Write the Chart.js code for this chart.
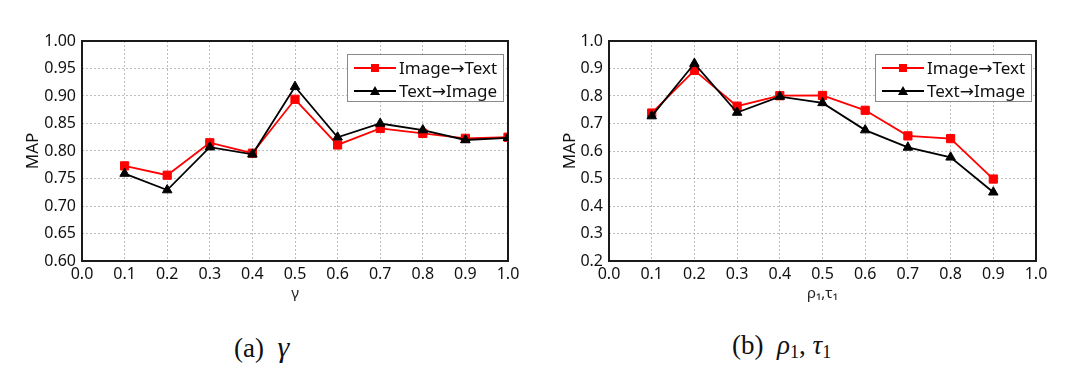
<!DOCTYPE html>
<html>
<head>
<meta charset="utf-8">
<script src="https://cdn.jsdelivr.net/npm/chart.js@4.4.1/dist/chart.umd.min.js"></script>
<style>
  html, body { margin: 0; padding: 0; background: #fff; }
  #page { position: relative; width: 1080px; height: 386px; overflow: hidden; }
  canvas { position: absolute; top: 0; }
  .cap { position: absolute; top: 330px; font-family: "Liberation Serif", "DejaVu Serif", serif; font-size: 27px; color: #111; white-space: nowrap; }
  .cap i { font-style: italic; }
  .cap .g { font-size: 30px; }
  .cap sub { font-size: 18px; vertical-align: -4px; }
</style>
</head>
<body>
<div id="page">
  <canvas id="left" width="540" height="310" style="left:0"></canvas>
  <canvas id="right" width="540" height="310" style="left:540px"></canvas>
  <div class="cap" style="left:234px">(a)&nbsp; <i class="g">γ</i></div>
  <div class="cap" style="left:732px">(b)&nbsp; <i>ρ</i><sub>1</sub>, <i>τ</i><sub>1</sub></div>
</div>
<script>
// values
const gammaX = [0.1, 0.2, 0.3, 0.4, 0.5, 0.6, 0.7, 0.8, 0.9, 1.0];
const gammaImgToText = [0.773, 0.756, 0.815, 0.796, 0.894, 0.811, 0.841, 0.832, 0.823, 0.825];
const gammaTextToImg = [0.759, 0.729, 0.807, 0.794, 0.917, 0.825, 0.850, 0.838, 0.820, 0.824];

const rhoX = [0.1, 0.2, 0.3, 0.4, 0.5, 0.6, 0.7, 0.8, 0.9];
const rhoImgToText = [0.738, 0.893, 0.763, 0.801, 0.802, 0.748, 0.655, 0.645, 0.498];
const rhoTextToImg = [0.727, 0.918, 0.740, 0.798, 0.775, 0.676, 0.613, 0.577, 0.450];

const seriesNames = ['Image\u2192Text', 'Text\u2192Image'];
const RED = '#ff0000';
const BLACK = '#000000';
const FONT = '"Noto Sans", "DejaVu Sans", sans-serif';

const toPoints = (xs, ys) => xs.map((x, i) => ({ x: x, y: ys[i] }));

// box around the plot area
const framePlugin = {
    id: 'frame',
    beforeDatasetsDraw(chart) {
        const a = chart.chartArea;
        const ctx = chart.ctx;
        ctx.save();
        ctx.strokeStyle = '#1a1a1a';
        ctx.lineWidth = 2;
        ctx.strokeRect(a.left, a.top, a.right - a.left, a.bottom - a.top);
        ctx.restore();
    }
};

// legend box in the upper right corner of the plot
const legendBoxPlugin = {
    id: 'legendBox',
    afterDatasetsDraw(chart) {
        const a = chart.chartArea;
        const ctx = chart.ctx;
        const w = 156, h = 47;
        const x0 = a.right - 5 - w, y0 = a.top + 13;
        ctx.save();
        ctx.fillStyle = '#fff';
        ctx.fillRect(x0, y0, w, h);
        ctx.strokeStyle = '#8a8a8a';
        ctx.lineWidth = 1;
        ctx.strokeRect(x0 + 0.5, y0 + 0.5, w, h);
        const rows = [
            { name: seriesNames[0], color: RED, shape: 'square', y: y0 + 14 },
            { name: seriesNames[1], color: BLACK, shape: 'triangle', y: y0 + 37 }
        ];
        rows.forEach(r => {
            ctx.strokeStyle = r.color;
            ctx.fillStyle = r.color;
            ctx.lineWidth = 1.8;
            ctx.beginPath();
            ctx.moveTo(x0 + 7, r.y);
            ctx.lineTo(x0 + 49, r.y);
            ctx.stroke();
            const mx = x0 + 28;
            ctx.beginPath();
            if (r.shape === 'square') {
                ctx.rect(mx - 4, r.y - 4, 8, 8);
            } else {
                ctx.moveTo(mx, r.y - 5);
                ctx.lineTo(mx + 5, r.y + 4);
                ctx.lineTo(mx - 5, r.y + 4);
                ctx.closePath();
            }
            ctx.fill();
            ctx.fillStyle = '#111';
            ctx.font = '17px ' + FONT;
            ctx.textBaseline = 'middle';
            ctx.textAlign = 'left';
            ctx.fillText(r.name, x0 + 52, r.y + 1);
        });
        ctx.restore();
    }
};

function makeChart(id, cfg) {
    const gridStyle = {
        color: '#bdbdbd',
        lineWidth: 1,
        drawTicks: false
    };
    const dashed = { display: false, dash: [2, 2] };
    return new Chart(document.getElementById(id), {
        type: 'line',
        data: {
            datasets: [
                {
                    label: seriesNames[1],
                    data: toPoints(cfg.xs, cfg.textImg),
                    borderColor: BLACK,
                    backgroundColor: BLACK,
                    borderWidth: 1.8,
                    pointStyle: 'triangle',
                    pointRadius: 5.5,
                    pointBorderWidth: 1,
                    order: 0
                },
                {
                    label: seriesNames[0],
                    data: toPoints(cfg.xs, cfg.imgText),
                    borderColor: RED,
                    backgroundColor: RED,
                    borderWidth: 1.8,
                    pointStyle: 'rect',
                    pointRadius: 5.8,
                    pointBorderWidth: 1,
                    order: 1
                }
            ]
        },
        options: {
            responsive: false,
            animation: false,
            devicePixelRatio: 1,
            layout: { padding: { left: 0, top: 41, right: cfg.padRight, bottom: 0 } },
            plugins: { legend: { display: false }, tooltip: { enabled: false } },
            scales: {
                x: {
                    type: 'linear',
                    min: 0,
                    max: 1,
                    border: dashed,
                    grid: gridStyle,
                    ticks: {
                        stepSize: 0.1,
                        padding: 4,
                        color: '#111',
                        font: { family: FONT, size: 16 },
                        maxRotation: 0,
                        callback: v => v.toFixed(1)
                    },
                    title: {
                        display: true,
                        text: cfg.xTitle,
                        color: '#222',
                        font: { family: FONT, size: 15 },
                        padding: { top: 0, bottom: 7 }
                    },
                    afterFit: s => { s.height = 49; }
                },
                y: {
                    min: cfg.yMin,
                    max: cfg.yMax,
                    border: dashed,
                    grid: gridStyle,
                    ticks: {
                        stepSize: cfg.yStep,
                        padding: 6,
                        color: '#111',
                        font: { family: FONT, size: 16 },
                        callback: v => v.toFixed(cfg.yDigits)
                    },
                    title: {
                        display: true,
                        text: 'MAP',
                        color: '#111',
                        font: { family: FONT, size: 17 },
                        padding: { top: cfg.titlePad, bottom: 0 }
                    },
                    afterFit: s => { s.width = cfg.yWidth; }
                }
            }
        },
        plugins: [framePlugin, legendBoxPlugin]
    });
}

Chart.defaults.font.family = FONT;

makeChart('left', {
    xs: gammaX, imgText: gammaImgToText, textImg: gammaTextToImg,
    xTitle: 'γ', yMin: 0.6, yMax: 1.0, yStep: 0.05, yDigits: 2,
    yWidth: 82, padRight: 32, titlePad: 23
});

makeChart('right', {
    xs: rhoX, imgText: rhoImgToText, textImg: rhoTextToImg,
    xTitle: 'ρ\u2081,τ\u2081', yMin: 0.2, yMax: 1.0, yStep: 0.1, yDigits: 1,
    yWidth: 69, padRight: 44, titlePad: 20
});
</script>
</body>
</html>
